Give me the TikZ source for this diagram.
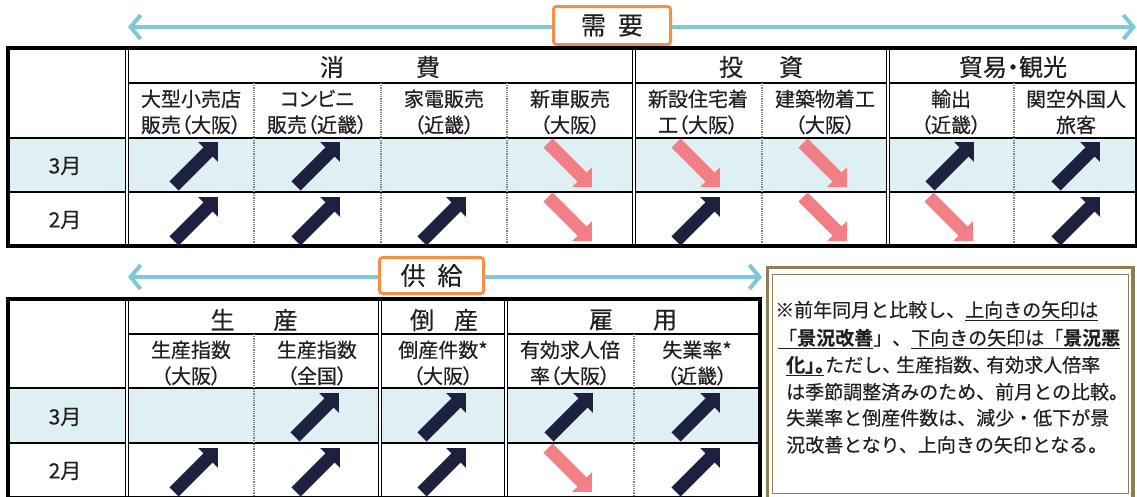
\documentclass[tikz,border=0pt]{standalone}
\usepackage{fontspec}
\setmainfont{Noto Sans CJK JP}[BoldFont={Noto Sans CJK JP Bold}, FakeBold=0.4]
\newfontfamily\jpp{Noto Sans CJK JP}[RawFeature=+palt, FakeBold=0.4]
\usetikzlibrary{arrows.meta}

\definecolor{ink}{HTML}{231F20}
\definecolor{navy}{HTML}{1E2040}
\definecolor{rose}{HTML}{F27F86}
\definecolor{rowc}{HTML}{DEF0F3}
\definecolor{flowc}{HTML}{7FC9D7}
\definecolor{tagc}{HTML}{F39149}
\definecolor{olive}{HTML}{8C7E55}

\begin{document}
\begin{tikzpicture}[x=1pt, y=-1pt,
    every node/.style={inner sep=0pt, text=ink},
    hdr/.style={font=\jpp\fontsize{24}{28}\selectfont},
    sub/.style={font=\jpp\fontsize{20}{26}\selectfont, align=center},
    mon/.style={font=\fontsize{21}{24}\selectfont},
    note/.style={font=\fontsize{19}{24}\selectfont, anchor=base west},
    tagbox/.style={draw=tagc, line width=3pt, fill=white, rounded corners=3pt,
      font=\fontsize{25}{28}\selectfont},
    flow/.style={draw=flowc, line width=4pt,
      {Straight Barb[length=10pt,width=24pt]}-{Straight Barb[length=10pt,width=24pt]}},
    frame/.style={line width=3.5pt},
    rule/.style={line width=2pt},
    dbl/.style={double, double distance=1.6pt, line width=1.3pt},
    dots/.style={densely dotted, line width=1.2pt, gray},
    uparr/.pic={\fill[navy, rotate=45] (31,0) -- (17,14) -- (17,6.5) -- (-31,6.5)
      -- (-31,-6.5) -- (17,-6.5) -- (17,-14) -- cycle;},
    dnarr/.pic={\fill[rose, rotate=-45] (31,0) -- (17,14) -- (17,6.5) -- (-31,6.5)
      -- (-31,-6.5) -- (17,-6.5) -- (17,-14) -- cycle;}
  ]
  \useasboundingbox (0,0) rectangle (1137,496);

  % demand
  \coordinate (dl) at (128,27);
  \coordinate (dr) at (1136,27);
  \draw[flow] (dl) -- (dr);
  \node[tagbox, minimum width=117pt, minimum height=38pt] (demand) at (612,25.5) {需\hspace{12pt}要};

  \fill[rowc] (8,138) rectangle (1137,192);
  \draw[rule] (128,83) -- (1137,83);
  \draw[rule] (8,138) -- (1137,138);
  \draw[rule] (8,192) -- (1137,192);
  \draw[dots] (254,83) -- (254,246);
  \draw[dots] (381,83) -- (381,246);
  \draw[dots] (507,83) -- (507,246);
  \draw[dots] (762,83) -- (762,246);
  \draw[dots] (1014,83) -- (1014,246);
  \draw[dbl] (127,48) -- (127,246);
  \draw[dbl] (634,48) -- (634,246);
  \draw[dbl] (888,48) -- (888,246);
  \draw[frame] (8,48) rectangle (1137,246);

  \node[hdr] (cons) at (380,67) {消\hspace{72pt}費};
  \node[hdr] (inv) at (761,67) {投\hspace{36pt}資};
  \node[hdr] (trade) at (1013,67) {貿易・観光};

  \node[sub] (s1) at (191,112) {大型小売店\\販売（大阪）};
  \node[sub] (s2) at (317,112) {コンビニ\\販売（近畿）};
  \node[sub] (s3) at (444,112) {家電販売\\（近畿）};
  \node[sub] (s4) at (570,112) {新車販売\\（大阪）};
  \node[sub] (s5) at (698,112) {新設住宅着\\工（大阪）};
  \node[sub] (s6) at (825,112) {建築物着工\\（大阪）};
  \node[sub] (s7) at (951,112) {輸出\\（近畿）};
  \node[sub] (s8) at (1076,112) {関空外国人\\旅客};

  \node[mon] (m3) at (65,166) {3月};
  \node[mon] (m2) at (65,220) {2月};

  % 3月
  \pic at (196,164) {uparr};
  \pic at (318,164) {uparr};
  \pic at (570,165) {dnarr};
  \pic at (698,165) {dnarr};
  \pic at (825,165) {dnarr};
  \pic at (952,164) {uparr};
  \pic at (1078,164) {uparr};
  % 2月
  \pic at (196,219) {uparr};
  \pic at (318,219) {uparr};
  \pic at (444,219) {uparr};
  \pic at (570,219) {dnarr};
  \pic at (698,219) {uparr};
  \pic at (825,219) {dnarr};
  \pic at (951,219) {dnarr};
  \pic at (1078,219) {uparr};

  % supply
  \coordinate (sl) at (128,277);
  \coordinate (sr) at (762,277);
  \draw[flow] (sl) -- (sr);
  \node[tagbox, minimum width=104pt, minimum height=36pt] (supply) at (431.5,275.5) {供\hspace{12pt}給};

  \fill[rowc] (8,388) rectangle (760,443);
  \draw[rule] (128,334) -- (760,334);
  \draw[rule] (8,388) -- (760,388);
  \draw[rule] (8,443) -- (760,443);
  \draw[dots] (254,334) -- (254,498);
  \draw[dots] (634,334) -- (634,498);
  \draw[dbl] (127,299) -- (127,498);
  \draw[dbl] (380,299) -- (380,498);
  \draw[dbl] (506,299) -- (506,498);
  \draw[frame] (8,299) rectangle (760,498);

  \node[hdr] (prod) at (254,320) {生\hspace{39pt}産};
  \node[hdr] (bank) at (444,320) {倒\hspace{20pt}産};
  \node[hdr] (emp) at (633,320) {雇\hspace{40pt}用};

  \node[sub] (t1) at (191,363) {生産指数\\（大阪）};
  \node[sub] (t2) at (317,363) {生産指数\\（全国）};
  \node[sub] (t3) at (443,363) {倒産件数*\\（大阪）};
  \node[sub] (t4) at (570,363) {有効求人倍\\率（大阪）};
  \node[sub] (t5) at (697,363) {失業率*\\（近畿）};

  \node[mon] (n3) at (65,417) {3月};
  \node[mon] (n2) at (65,471) {2月};

  % 3月
  \pic at (317,415) {uparr};
  \pic at (444,415) {uparr};
  \pic at (571,415) {uparr};
  \pic at (698,415) {uparr};
  % 2月
  \pic at (196,470) {uparr};
  \pic at (318,470) {uparr};
  \pic at (444,470) {uparr};
  \pic at (570,470) {dnarr};
  \pic at (698,470) {uparr};

  % note
  \draw[olive, line width=3.5pt] (767.5,267.5) rectangle (1133,499);
  \draw[olive, line width=1pt] (772.5,274) rectangle (1128,493);
  \node[note] (l1) at (775,317) {※前年同月と比較し、\underline{上向きの矢印は}};
  \node[note] (l2) at (778,345) {\underline{「\textbf{景況改善}}」、\underline{下向きの矢印は「\textbf{景況悪}}};
  \node[note] (l3) at (786,372) {\underline{\textbf{化」}}\kern-9pt\textbf{。}\kern-9pt ただし、\kern-5pt 生産指数、\kern-5pt 有効求人倍率};
  \node[note] (l4) at (786,399) {は季節調整済みのため、前月との比較。};
  \node[note] (l5) at (786,425) {失業率と倒産件数は、減少・低下が景};
  \node[note] (l6) at (786,452) {況改善となり、上向きの矢印となる。};
\end{tikzpicture}
\end{document}
